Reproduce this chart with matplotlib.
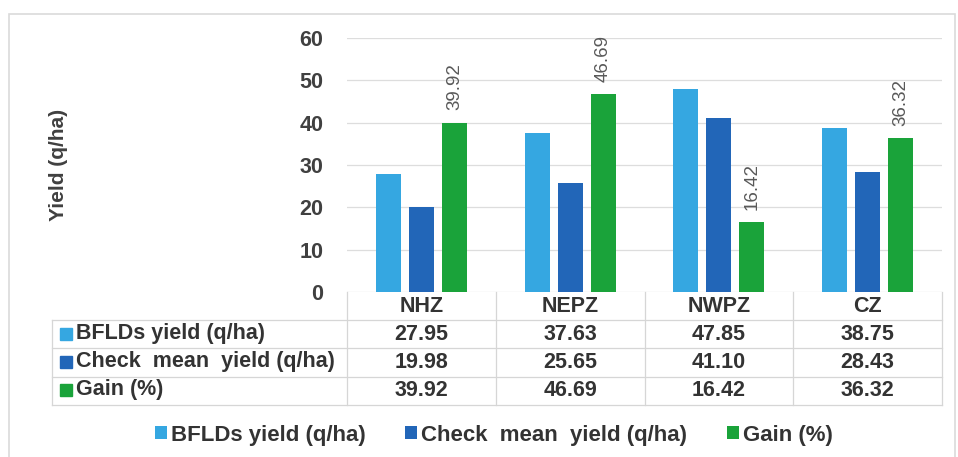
import numpy as np
import matplotlib.pyplot as plt
from matplotlib.patches import Rectangle
from matplotlib.lines import Line2D

plt.rcParams['font.family'] = ['Liberation Sans', 'DejaVu Sans']

# 数据
zones = ['NHZ', 'NEPZ', 'NWPZ', 'CZ']
series_names = ['BFLDs yield (q/ha)', 'Check  mean  yield (q/ha)', 'Gain (%)']
bflds_yield = [27.95, 37.63, 47.85, 38.75]
check_yield = [19.98, 25.65, 41.10, 28.43]
gain_pct = [39.92, 46.69, 16.42, 36.32]
colors = ['#35A7E1', '#2266B8', '#1AA33A']
yticks = [0, 10, 20, 30, 40, 50, 60]

W, H = 958, 457
FS = 15.5
fig = plt.figure(figsize=(W / 100, H / 100), dpi=100)

# 外框
fig.add_artist(Rectangle((9 / W, -0.05), 946 / W, 1 - 14 / H + 0.05,
                         transform=fig.transFigure, fill=False,
                         edgecolor='#DADADA', lw=1.2))

ax = fig.add_axes([347 / W, 1 - 292 / H, 595 / W, 254 / H])

x = np.arange(len(zones))
offsets = [-0.222, 0, 0.222]
values = [bflds_yield, check_yield, gain_pct]
bars = []
for vals, off, c, name in zip(values, offsets, colors, series_names):
    b = ax.bar(x + off, vals, width=0.168, color=c, label=name, zorder=3)
    bars.append(b)

# 只给 Gain 柱子加竖排标签
for xi, v in zip(x + offsets[2], gain_pct):
    ax.text(xi, v + 3.0, f'{v:.2f}', rotation=90, ha='center', va='bottom',
            fontsize=13.5, color='#595959')

ax.set_xlim(-0.5, len(zones) - 0.5)
ax.set_ylim(0, 60)
ax.set_yticks(yticks)
ax.set_yticklabels([str(t) for t in yticks], fontsize=FS, fontweight='bold',
                   color='#404040')
ax.tick_params(axis='y', length=0, pad=17)
ax.set_xticks([])
ax.grid(axis='y', color='#DDDDDD', lw=0.9, zorder=0)
for s in ax.spines.values():
    s.set_visible(False)

fig.text(58 / W, 1 - 165 / H, 'Yield (q/ha)', rotation=90, ha='center',
         va='center', fontsize=15, fontweight='bold', color='#404040')

# 底部数据表
tr = ax.get_xaxis_transform()
px = 1 / 254  # 轴高度对应的像素
row_y = [-(334 - 292) * px, -(362 - 292) * px, -(390 - 292) * px]
line_y = [-(320 - 292) * px, -(348 - 292) * px, -(377 - 292) * px, -(405 - 292) * px]
col_px = 148.75
left_x = (52 - 347) / col_px - 0.5
grid_c = '#D6D6D6'

for xi, z in zip(x, zones):
    ax.text(xi, -(306 - 292) * px, z, transform=tr, ha='center', va='center',
            fontsize=FS, fontweight='bold', color='#333333')
for ly in line_y:
    ax.add_line(Line2D([left_x, 3.5], [ly, ly], transform=tr, color=grid_c,
                       lw=0.9, clip_on=False))
for vx in [-0.5, 0.5, 1.5, 2.5, 3.5]:
    ax.add_line(Line2D([vx, vx], [0, line_y[-1]], transform=tr, color=grid_c,
                       lw=0.9, clip_on=False))
ax.add_line(Line2D([left_x, left_x], [line_y[0], line_y[-1]], transform=tr,
                   color=grid_c, lw=0.9, clip_on=False))

for ry, vals, c, name in zip(row_y, values, colors, series_names):
    ax.add_line(Line2D([left_x + 14 / col_px], [ry], transform=tr, marker='s',
                       markersize=8, color=c, lw=0, clip_on=False))
    ax.text(left_x + 24 / col_px, ry, name, transform=tr, ha='left',
            va='center', fontsize=FS, fontweight='bold', color='#333333')
    for xi, v in zip(x, vals):
        ax.text(xi, ry, f'{v:.2f}', transform=tr, ha='center', va='center',
                fontsize=FS, fontweight='bold', color='#333333')

# 图例
fig.legend(handles=bars, labels=series_names, loc='center', ncol=3,
           bbox_to_anchor=(494 / W, 1 - 435 / H), frameon=False,
           prop={'size': 16, 'weight': 'bold'}, handlelength=0.54,
           handleheight=0.5, handletextpad=0.18, columnspacing=1.8,
           labelcolor='#333333')

fig.savefig('out.png', dpi=100)
